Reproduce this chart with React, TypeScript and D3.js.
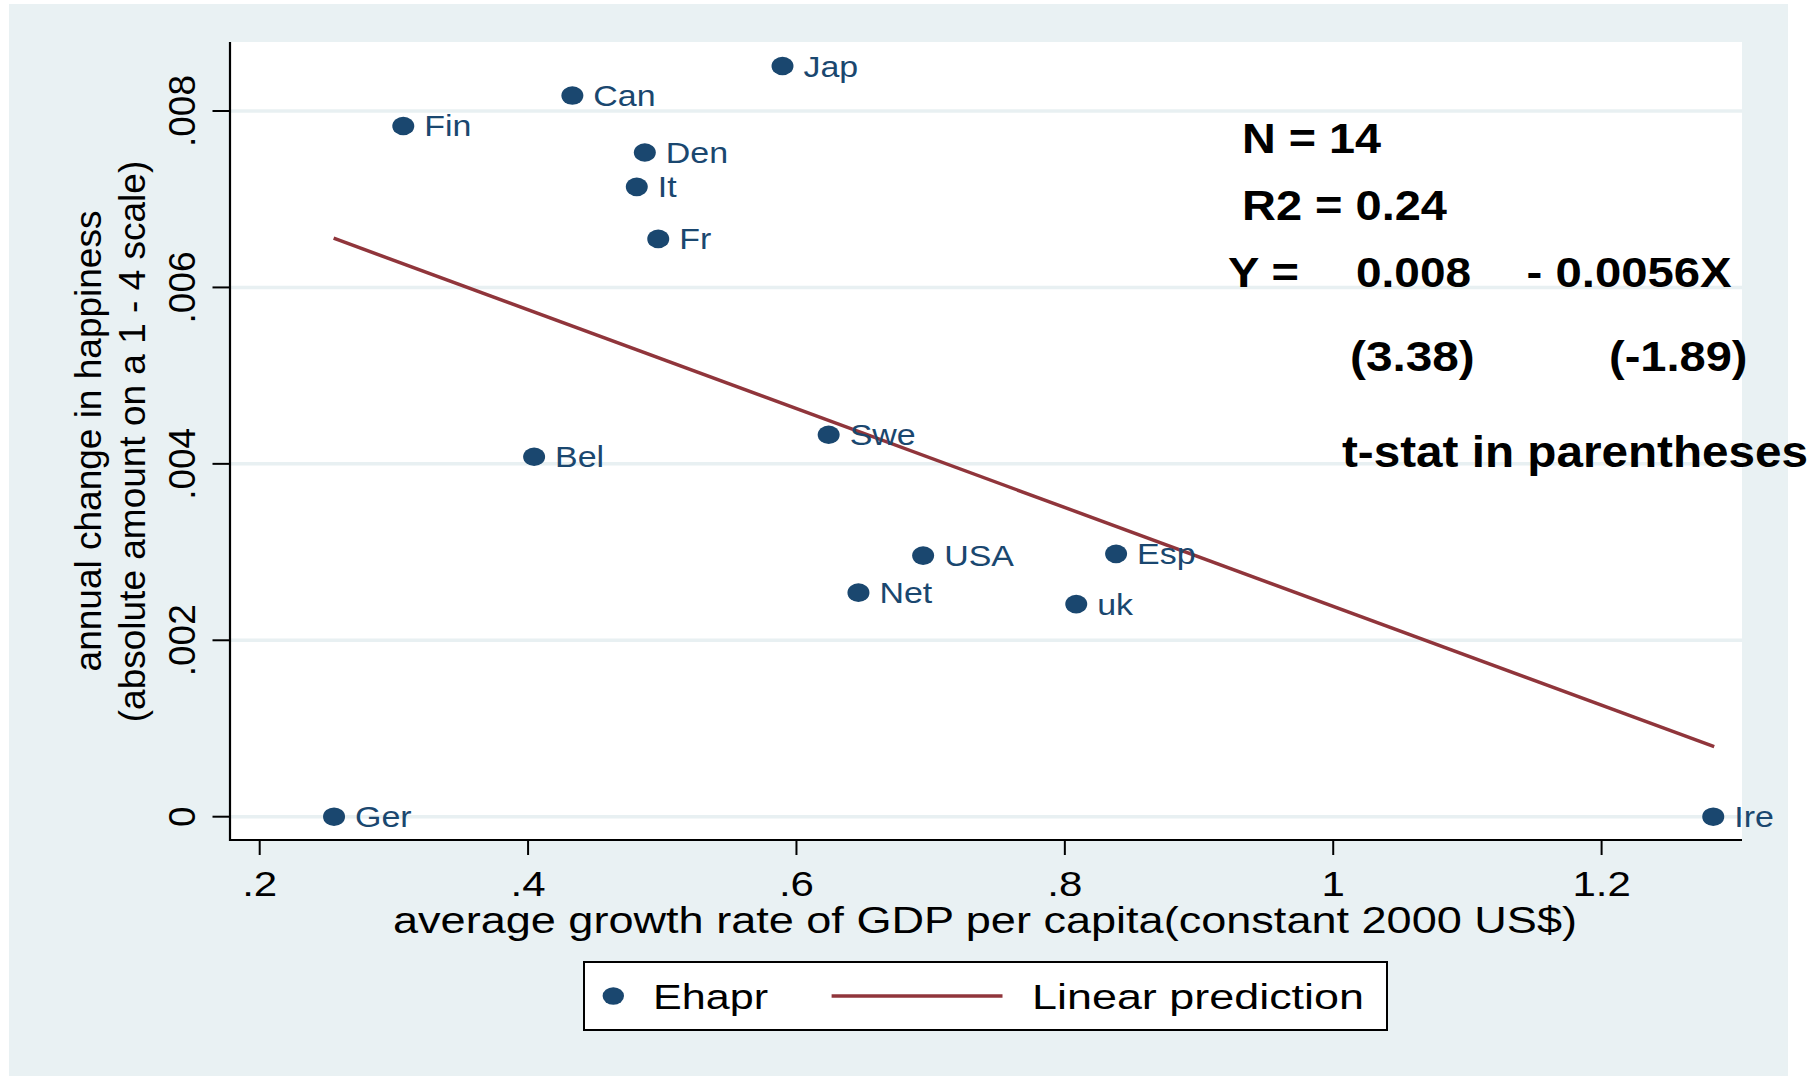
import React from "react";
import * as d3 from "d3";

const countries = ["Fin", "Can", "Jap", "Den", "It", "Fr", "Bel", "Ger", "Swe", "USA", "Esp", "Net", "uk", "Ire"];
const gdpGrowth = [0.307, 0.433, 0.5896, 0.487, 0.481, 0.497, 0.4045, 0.2554, 0.624, 0.6944, 0.8382, 0.6462, 0.8085, 1.2832];
const happinessChange = [0.00783, 0.008175, 0.00851, 0.00753, 0.00714, 0.00655, 0.00408, 0.0, 0.00433, 0.00296, 0.00298, 0.00254, 0.00241, 0.0];

const fitX = [0.2551, 1.2839];
const fitY = [0.006558, 0.000794];

const xTicks = [0.2, 0.4, 0.6, 0.8, 1, 1.2];
const xTickLabels = [".2", ".4", ".6", ".8", "1", "1.2"];
const yTicks = [0, 0.002, 0.004, 0.006, 0.008];
const yTickLabels = ["0", ".002", ".004", ".006", ".008"];

const xTitle = "average growth rate of GDP per capita(constant 2000 US$)";
const yTitleLines = ["annual change in happiness", "(absolute amount on a 1 - 4 scale)"];
const legendLabels = ["Ehapr", "Linear prediction"];
const statsLines = ["N = 14", "R2 = 0.24"];
const equationParts = ["Y =", "0.008", "- 0.0056X"];
const tstatParts = ["(3.38)", "(-1.89)"];
const note = "t-stat in parentheses";

const W = 1811;
const H = 1076;
const FONT = "'Liberation Sans', Arial, Helvetica, sans-serif";
const NAVY = "#1a476f";
const MAROON = "#90353b";
const BG = "#e9f1f3";

export default function App() {
  const plot = { left: 230, right: 1742, top: 42, bottom: 840 };
  const x = d3.scaleLinear().domain([0.2, 1.2]).range([259.7, 1601.6]);
  const y = d3.scaleLinear().domain([0, 0.008]).range([816.7, 111]);
  const line = d3
    .line<number>()
    .x((d, i) => x(fitX[i]))
    .y((d) => y(d));

  return (
    <svg
      width={W}
      height={H}
      style={{ position: "absolute", left: 0, top: 0, display: "block" }}
      fontFamily={FONT}
    >
      <rect x={0} y={0} width={W} height={H} fill="#ffffff" />
      <rect x={9} y={4} width={1779} height={1072} fill={BG} />
      <rect x={plot.left} y={plot.top} width={plot.right - plot.left} height={plot.bottom - plot.top} fill="#ffffff" />

      {/* gridlines */}
      {yTicks.map((t, i) => (
        <line key={"g" + i} x1={plot.left} x2={plot.right} y1={y(t)} y2={y(t)} stroke="#e8f0f2" strokeWidth={3.5} />
      ))}

      {/* axes */}
      <line x1={plot.left} x2={plot.left} y1={plot.top} y2={plot.bottom + 1} stroke="#000" strokeWidth={2.2} />
      <line x1={plot.left - 1} x2={plot.right} y1={plot.bottom} y2={plot.bottom} stroke="#000" strokeWidth={2.2} />

      {/* y ticks */}
      {yTicks.map((t, i) => (
        <g key={"yt" + i}>
          <line x1={212.5} x2={plot.left} y1={y(t)} y2={y(t)} stroke="#000" strokeWidth={2} />
          <text
            transform={`translate(195,${y(t)}) rotate(-90)`}
            textAnchor="middle"
            fontSize={37}
            fill="#000"
          >
            {yTickLabels[i]}
          </text>
        </g>
      ))}

      {/* x ticks */}
      {xTicks.map((t, i) => (
        <g key={"xt" + i}>
          <line x1={x(t)} x2={x(t)} y1={plot.bottom} y2={855} stroke="#000" strokeWidth={2} />
          <text
            transform={`translate(${x(t)},896) scale(1.2,1)`}
            textAnchor="middle"
            fontSize={35}
            fill="#000"
          >
            {xTickLabels[i]}
          </text>
        </g>
      ))}

      {/* axis titles */}
      <text x={393} y={932.7} fontSize={36} textLength={1184} lengthAdjust="spacingAndGlyphs" fill="#000">
        {xTitle}
      </text>
      <text transform="translate(101.4,441) rotate(-90)" textAnchor="middle" fontSize={37} fill="#000">
        {yTitleLines[0]}
      </text>
      <text transform="translate(145.4,441.5) rotate(-90)" textAnchor="middle" fontSize={37} fill="#000">
        {yTitleLines[1]}
      </text>

      {/* fit line */}
      <path d={line(fitY) || ""} fill="none" stroke={MAROON} strokeWidth={3.5} />

      {/* points */}
      {countries.map((c, i) => {
        const cx = x(gdpGrowth[i]);
        const cy = y(happinessChange[i]);
        return (
          <g key={c}>
            <ellipse cx={cx} cy={cy} rx={11} ry={9.3} fill={NAVY} />
            <text
              transform={`translate(${cx + 21},${cy + 10.5}) scale(1.17,1)`}
              fontSize={29}
              fill={NAVY}
            >
              {c}
            </text>
          </g>
        );
      })}

      {/* stats annotation */}
      <g fontWeight="bold" fill="#000" fontSize={43}>
        <text x={1242} y={153.3} textLength={139} lengthAdjust="spacingAndGlyphs">{statsLines[0]}</text>
        <text x={1242} y={219.5} textLength={205} lengthAdjust="spacingAndGlyphs">{statsLines[1]}</text>
        <text x={1228} y={287.3} textLength={71} lengthAdjust="spacingAndGlyphs">{equationParts[0]}</text>
        <text x={1356} y={287.3} textLength={115} lengthAdjust="spacingAndGlyphs">{equationParts[1]}</text>
        <text x={1526.6} y={287.3} textLength={205} lengthAdjust="spacingAndGlyphs">{equationParts[2]}</text>
        <text x={1350} y={371} textLength={124.7} lengthAdjust="spacingAndGlyphs">{tstatParts[0]}</text>
        <text x={1609} y={371} textLength={138.5} lengthAdjust="spacingAndGlyphs">{tstatParts[1]}</text>
        <text x={1342} y={466.7} fontSize={44} textLength={466} lengthAdjust="spacingAndGlyphs">{note}</text>
      </g>

      {/* legend */}
      <rect x={584} y={962} width={803} height={68} fill="#ffffff" stroke="#000" strokeWidth={2} />
      <ellipse cx={613.3} cy={996} rx={10.7} ry={8.7} fill={NAVY} />
      <text x={653} y={1009.3} fontSize={35.5} textLength={115} lengthAdjust="spacingAndGlyphs" fill="#000">
        {legendLabels[0]}
      </text>
      <line x1={831.6} x2={1002.5} y1={996} y2={996} stroke={MAROON} strokeWidth={3.5} />
      <text x={1032} y={1009.3} fontSize={35.5} textLength={332} lengthAdjust="spacingAndGlyphs" fill="#000">
        {legendLabels[1]}
      </text>
    </svg>
  );
}
